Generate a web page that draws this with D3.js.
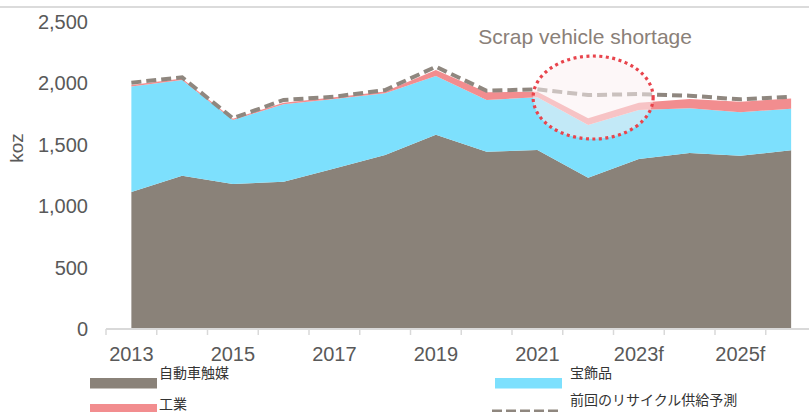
<!DOCTYPE html>
<html>
<head>
<meta charset="utf-8">
<script src="https://cdn.jsdelivr.net/npm/d3@7"></script>
<style>
  body { margin: 0; background: #fff; }
  svg { display: block; font-family: "Liberation Sans", Arial, sans-serif; }
</style>
</head>
<body>
<div id="root"></div>
<script>
const width = 809;
const height = 412;

// categories and values (koz)
const years = ['2013', '2014', '2015', '2016', '2017', '2018', '2019', '2020', '2021', '2022', '2023f', '2024f', '2025f', '2026f'];
const autocatalyst = [1115, 1248, 1180, 1199, 1308, 1417, 1582, 1444, 1458, 1232, 1384, 1433, 1411, 1455];
const jewellery = [860, 780, 522, 631, 565, 502, 478, 421, 429, 429, 399, 364, 354, 339];
const industrial = [12, 12, 10, 12, 14, 16, 49, 62, 45, 55, 60, 76, 86, 84];
const previousForecast = [2006, 2049, 1716, 1865, 1892, 1946, 2136, 1940, 1952, 1905, 1913, 1900, 1870, 1892];
const yTicks = [0, 500, 1000, 1500, 2000, 2500];
const xLabelYears = ['2013', '2015', '2017', '2019', '2021', '2023f', '2025f'];

const seriesKeys = ['auto', 'jewel', 'ind'];
const seriesNames = {auto: '自動車触媒', jewel: '宝飾品', ind: '工業', prev: '前回のリサイクル供給予測'};
const colors = {auto: '#8a8279', jewel: '#7de0fd', ind: '#f28d8f', prev: '#8f877f'};

const table = years.map((yr, i) => ({
    year: yr,
    auto: autocatalyst[i],
    jewel: jewellery[i],
    ind: industrial[i],
    prev: previousForecast[i]
}));

const x = d3.scaleBand()
    .domain(years)
    .range([106, 106 + 14 * 50.75]);
const y = d3.scaleLinear()
    .domain([0, 2500])
    .range([329, 22]);
const cx = d => x(d) + x.bandwidth() / 2;

const svg = d3.select('#root')
    .append('svg')
    .attr('width', width)
    .attr('height', height);

// top rule
svg.append('line')
    .attr('x1', 0).attr('x2', width)
    .attr('y1', 7).attr('y2', 7)
    .attr('stroke', '#cfcfcf')
    .attr('stroke-width', 1.5);

// stacked areas
const stacked = d3.stack().keys(seriesKeys)(table);
const area = d3.area()
    .x(d => cx(d.data.year))
    .y0(d => y(d[0]))
    .y1(d => y(d[1]));

svg.append('g')
    .selectAll('path')
    .data(stacked)
    .join('path')
    .attr('d', area)
    .attr('fill', d => colors[d.key]);

// previous forecast dashed line
const line = d3.line()
    .x(d => cx(d.year))
    .y(d => y(d.prev));

svg.append('path')
    .datum(table)
    .attr('d', line)
    .attr('fill', 'none')
    .attr('stroke', colors.prev)
    .attr('stroke-width', 4)
    .attr('stroke-dasharray', '10,5');

// x axis
const axisG = svg.append('g');
axisG.append('line')
    .attr('x1', x.range()[0]).attr('x2', x.range()[1])
    .attr('y1', y(0)).attr('y2', y(0))
    .attr('stroke', '#d9d9d9')
    .attr('stroke-width', 2);
axisG.selectAll('.tick')
    .data(years.concat(['end']))
    .join('line')
    .attr('x1', (d, i) => x.range()[0] + i * x.step())
    .attr('x2', (d, i) => x.range()[0] + i * x.step())
    .attr('y1', y(0))
    .attr('y2', y(0) + 6)
    .attr('stroke', '#d9d9d9')
    .attr('stroke-width', 1.5);
axisG.selectAll('text')
    .data(xLabelYears)
    .join('text')
    .attr('x', d => cx(d))
    .attr('y', 361)
    .attr('text-anchor', 'middle')
    .attr('font-size', 20)
    .attr('fill', '#595959')
    .text(d => d);

// y axis labels
svg.append('g')
    .selectAll('text')
    .data(yTicks)
    .join('text')
    .attr('x', 88)
    .attr('y', d => y(d))
    .attr('dy', '0.35em')
    .attr('text-anchor', 'end')
    .attr('font-size', 20)
    .attr('fill', '#595959')
    .text(d => d3.format(',')(d));

svg.append('text')
    .attr('transform', 'translate(16,148) rotate(-90)')
    .attr('dy', '0.35em')
    .attr('text-anchor', 'middle')
    .attr('font-size', 19)
    .attr('fill', '#595959')
    .text('koz');

// annotation
svg.append('ellipse')
    .attr('cx', cx('2022') + 5)
    .attr('cy', y(1885))
    .attr('rx', 60)
    .attr('ry', 41.5)
    .attr('fill', '#fcf0f2')
    .attr('fill-opacity', 0.55)
    .attr('stroke', '#e8444c')
    .attr('stroke-width', 3.2)
    .attr('stroke-dasharray', '3,3.5');

svg.append('text')
    .attr('x', cx('2022') - 3)
    .attr('y', 44)
    .attr('text-anchor', 'middle')
    .attr('font-size', 21)
    .attr('fill', '#8a8078')
    .text('Scrap vehicle shortage');

// legend
const legend = [
    {key: 'auto', lx: 90, ly: 378, ty: 378},
    {key: 'jewel', lx: 495, ly: 378, ty: 378},
    {key: 'ind', lx: 90, ly: 404, ty: 409},
    {key: 'prev', lx: 492, ly: 409, ty: 405}
];
const lg = svg.append('g').selectAll('g')
    .data(legend)
    .join('g');
lg.filter(d => d.key !== 'prev')
    .append('rect')
    .attr('x', d => d.lx)
    .attr('y', d => d.ly)
    .attr('width', 67)
    .attr('height', 10.5)
    .attr('fill', d => colors[d.key]);
lg.filter(d => d.key === 'prev')
    .append('line')
    .attr('x1', d => d.lx)
    .attr('x2', d => d.lx + 70)
    .attr('y1', d => d.ly + 3)
    .attr('y2', d => d.ly + 3)
    .attr('stroke', colors.prev)
    .attr('stroke-width', 5)
    .attr('stroke-dasharray', '10,4');
lg.append('text')
    .attr('x', d => d.key === 'auto' || d.key === 'ind' ? 159 : 570)
    .attr('y', d => d.ty)
    .attr('font-family', '"Noto Sans CJK JP", sans-serif')
    .attr('font-size', 14)
    .attr('fill', '#333')
    .text(d => seriesNames[d.key]);
</script>
</body>
</html>
